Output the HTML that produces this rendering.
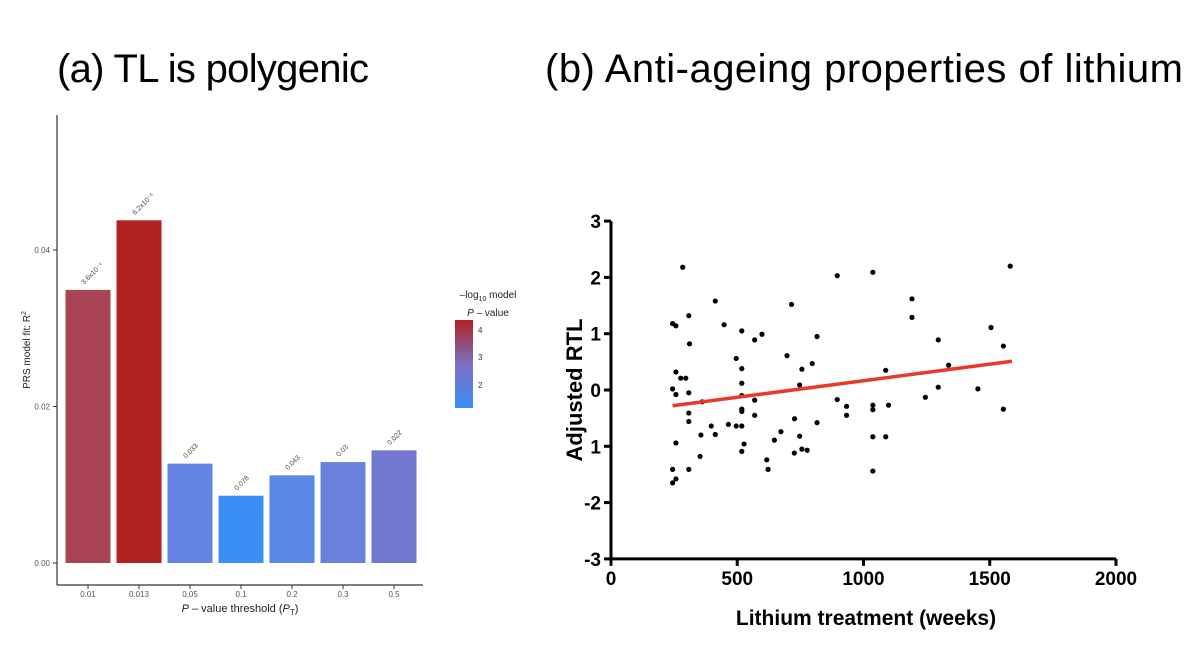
<!DOCTYPE html>
<html><head><meta charset="utf-8"><style>
body{margin:0;background:#fff;}
svg{display:block;font-family:"Liberation Sans",sans-serif;}
</style></head><body>
<svg id="fig" width="1200" height="657" viewBox="0 0 1200 657">
<defs><linearGradient id="cb" x1="0" y1="1" x2="0" y2="0"><stop offset="0" stop-color="#3a8ef5"/><stop offset="0.5" stop-color="#7a6fc4"/><stop offset="1" stop-color="#b22222"/></linearGradient></defs>
<text x="57" y="82" font-size="40" textLength="312">(a) TL is polygenic</text>
<text x="545" y="82" font-size="40" textLength="638">(b) Anti-ageing properties of lithium</text>
<g id="left">
<line x1="57" y1="115" x2="57" y2="585" stroke="#333" stroke-width="1.2"/>
<line x1="57" y1="585" x2="423" y2="585" stroke="#333" stroke-width="1.2"/>
<text transform="translate(30,350) rotate(-90)" font-size="10" fill="#222" text-anchor="middle">PRS model fit:  R<tspan dy="-4" font-size="7">2</tspan></text>
<text x="240" y="612" font-size="11" fill="#222" text-anchor="middle"><tspan font-style="italic">P</tspan> – value threshold (<tspan font-style="italic">P</tspan><tspan dy="3" font-size="8">T</tspan><tspan dy="-3">)</tspan></text>
<g>
<text x="488" y="298" font-size="10" fill="#222" text-anchor="middle">–log<tspan dy="3" font-size="7">10</tspan><tspan dy="-3"> model</tspan></text>
<text x="488" y="316" font-size="10" fill="#222" text-anchor="middle"><tspan font-style="italic">P</tspan> – value</text>
<rect x="455" y="320" width="18" height="88" fill="url(#cb)"/>
<text x="478" y="333" font-size="8" fill="#333">4</text>
<text x="478" y="360" font-size="8" fill="#333">3</text>
<text x="478" y="388" font-size="8" fill="#333">2</text>
</g>
</g>
<g id="right">
<text transform="translate(582,390) rotate(-90)" font-size="22" font-weight="bold" text-anchor="middle">Adjusted RTL</text>
<text x="866" y="625" font-size="21" font-weight="bold" text-anchor="middle">Lithium treatment (weeks)</text>
</g>
</svg>
<script>
const NS="http://www.w3.org/2000/svg";
function mk(p,t,a){const e=document.createElementNS(NS,t);for(const k in a)e.setAttribute(k,a[k]);p.appendChild(e);return e;}
// Bar chart data
const categories=["0.01","0.013","0.05","0.1","0.2","0.3","0.5"];
const r2Values=[0.0349,0.0438,0.0127,0.0086,0.0112,0.0129,0.0144];
const barLabels=["3.6x10⁻⁴","6.2x10⁻⁵","0.033","0.078","0.043","0.03","0.022"];
const barColors=["#a84454","#b22222","#6384e0","#3a8ef5","#5a88e8","#6a80dd","#7278cf"];
const yTicks=[0,0.02,0.04];
const yTickLabels=["0.00","0.02","0.04"];
// Scatter data
const weeks=[244,257,284,308,311,257,276,296,244,257,308,361,308,308,257,356,353,244,308,257,244,397,413,413,448,465,496,496,518,518,518,518,518,518,518,527,518,569,598,569,569,617,622,647,673,697,715,727,726,747,756,747,756,777,797,816,816,896,896,933,933,1037,1037,1037,1037,1037,1088,1088,1099,1192,1192,1245,1296,1296,1337,1453,1505,1554,1554,1581];
const rtl=[1.18,1.14,2.18,1.32,0.82,0.32,0.21,0.21,0.02,-0.08,-0.05,-0.21,-0.41,-0.56,-0.94,-0.80,-1.18,-1.41,-1.41,-1.58,-1.65,-0.64,1.58,-0.79,1.16,-0.61,0.56,-0.64,1.05,0.38,0.12,-0.10,-0.34,-0.38,-0.64,-0.96,-1.09,0.89,0.99,-0.18,-0.45,-1.24,-1.41,-0.89,-0.74,0.61,1.52,-0.51,-1.12,0.09,0.37,-0.82,-1.05,-1.07,0.47,0.95,-0.58,2.03,-0.17,-0.29,-0.45,2.09,-0.27,-0.35,-0.83,-1.44,0.35,-0.83,-0.27,1.62,1.29,-0.13,0.89,0.05,0.44,0.02,1.11,0.78,-0.34,2.20];
const fitX=[244,1588];
const fitY=[-0.28,0.51];
const xTicks=[0,500,1000,1500,2000];
const sTicks=[3,2,1,0,-1,-2,-3];
const sTickLabels=["3","2","1","0","1","-2","-3"];

const L=document.getElementById('left');
const by=v=>563-v*7825;
const bx=i=>88+i*51;
yTicks.forEach((t,i)=>{
  const tk=mk(L,'line',{x1:53,x2:57,y1:by(t),y2:by(t),stroke:'#333'});
  
  
  const tx=mk(L,'text',{x:50,y:by(t)+3,'font-size':8,fill:'#555','text-anchor':'end'});tx.textContent=yTickLabels[i];
  
  
});
categories.forEach((c,i)=>{
  const r=mk(L,'rect',{x:bx(i)-22.5,y:by(r2Values[i]),width:45,height:by(0)-by(r2Values[i]),fill:barColors[i]});
  
  
  const t=mk(L,'text',{x:0,y:0,'font-size':7,fill:'#444',transform:`translate(${bx(i)-4},${by(r2Values[i])-5}) rotate(-45)`});t.textContent=barLabels[i];
  
  
  const tk=mk(L,'line',{x1:bx(i),x2:bx(i),y1:585,y2:589,stroke:'#333'});
  
  
  const xl=mk(L,'text',{x:bx(i),y:597,'font-size':8,fill:'#555','text-anchor':'middle'});xl.textContent=c;
  
  
});

const R=document.getElementById('right');
const sx=v=>611+v*0.2525;
const sy=v=>390-v*56.3;
const ax=mk(R,'path',{d:`M${sx(0)} ${sy(3)}V${sy(-3)}H${sx(2000)}`,stroke:'#000','stroke-width':3,fill:'none'});


sTicks.forEach((t,i)=>{
  const tk=mk(R,'line',{x1:sx(0)-7,x2:sx(0),y1:sy(t),y2:sy(t),stroke:'#000','stroke-width':3});
  
  
  const tx=mk(R,'text',{x:sx(0)-10,y:sy(t)+7,'font-size':19,'font-weight':'bold','text-anchor':'end'});tx.textContent=sTickLabels[i];
  
  
});
xTicks.forEach(t=>{
  const tk=mk(R,'line',{x1:sx(t),x2:sx(t),y1:sy(-3),y2:sy(-3)+7,stroke:'#000','stroke-width':3});
  
  
  const tx=mk(R,'text',{x:sx(t),y:sy(-3)+26,'font-size':19,'font-weight':'bold','text-anchor':'middle'});tx.textContent=t;
  
  
});
weeks.forEach((w,i)=>{
  const c=mk(R,'circle',{cx:sx(w),cy:sy(rtl[i]),r:2.6,fill:'#000'});
  
  
});
const fl=mk(R,'line',{x1:sx(fitX[0]),y1:sy(fitY[0]),x2:sx(fitX[1]),y2:sy(fitY[1]),stroke:'#e8392b','stroke-width':3.5});


</script>
</body></html>
